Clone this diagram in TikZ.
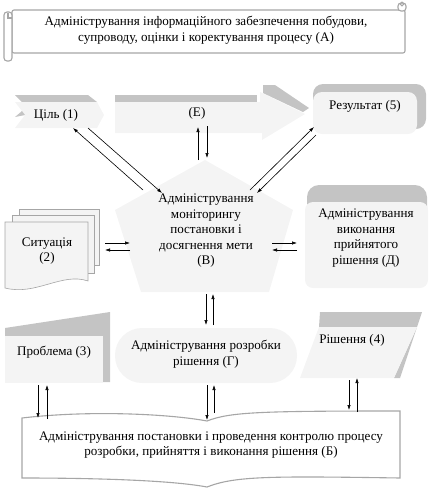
\documentclass[tikz,border=0pt]{standalone}
\usepackage{fontspec}
\setmainfont{Liberation Serif}
\newfontfamily\lbfont{Liberation Serif}
\usetikzlibrary{arrows.meta}
\definecolor{lightfill}{HTML}{F4F4F4}
\definecolor{darkfill}{HTML}{C4C4C4}
\definecolor{edgegray}{HTML}{A6A6A6}
\begin{document}
\begin{tikzpicture}[x=1pt,y=-1pt,
 lbl/.style={font=\lbfont\fontsize{13.1}{15.5}\selectfont, align=center, inner sep=0pt},
 arr/.style={-{Latex[length=5pt,width=3.4pt]}, line width=0.6pt},
 lt/.style={fill=lightfill},
 dk/.style={fill=darkfill},
 outl/.style={draw=edgegray, line width=1.1pt}]
\useasboundingbox (0,0) rectangle (434,491);

% ---------- (A) scroll ----------
\draw[outl, fill=white, rounded corners=2] (12,10) rectangle (405,53);
\draw[outl, fill=white, rounded corners=3] (4,12) rectangle (12,61);
\draw[outl] (8,13) -- (8,18) -- (12,18);
\draw[outl, fill=white, rounded corners=3] (398,3) rectangle (406,11);
\draw[outl] (402,4) circle (1.8);
\node[lbl] (A) at (206,30) {Адміністрування інформаційного забезпечення побудови,\\супроводу, оцінки і коректування процесу (А)};

% ---------- Ціль (1) ----------
\fill[dk] (15,95) -- (88,95) -- (97,102) -- (22,102) -- cycle;
\fill[lt] (22,102) -- (97,102) -- (104,115) -- (97,128) -- (15,128) -- (25,115) -- (15,102) -- cycle;
\fill[dk] (15,117) -- (22,111) -- (25,115) -- cycle;
\node[lbl] (goal) at (56,115) {Ціль (1)};

% ---------- (E) block arrow ----------
\fill[dk] (115,95) -- (257,95) -- (257,102) -- (115,102) -- cycle;
\fill[lt] (115,102) -- (260,102) -- (260,92) -- (305,114) -- (262,140) -- (262,133) -- (115,133) -- cycle;
\fill[dk] (263,85) -- (275,85) -- (309,108) -- (303,112) -- (263,93) -- cycle;
\node[lbl] (E) at (197,113) {(Е)};

% ---------- Результат (5) ----------
\fill[dk, rounded corners=10] (313,84) rectangle (426,129);
\fill[lt, rounded corners=9] (313,92) rectangle (417,134);
\node[lbl] (result) at (365,106) {Результат (5)};

% ---------- pentagon (В) ----------
\fill[lt] (205,160) -- (293,210) -- (269,292) -- (141,292) -- (115,210) -- cycle;
\node[lbl] (mon) at (206,231) {Адміністрування\\моніторингу\\постановки і\\досягнення мети\\(В)};

% ---------- Ситуація (2) ----------
\draw[outl, line width=0.6pt, fill=lightfill] (19,209) rectangle (99,265);
\draw[outl, line width=0.6pt, fill=lightfill] (12,215) rectangle (94,273);
\draw[outl, line width=0.6pt, fill=lightfill] (5,222) -- (88,222) -- (88,281)
   .. controls (62,272) and (36,296) .. (5,288) -- cycle;
\node[lbl] (sit) at (47,251) {Ситуація\\(2)};

% ---------- (Д) ----------
\fill[dk, rounded corners=12] (307,185) rectangle (427,232);
\fill[lt, rounded corners=8] (305,202) rectangle (428,288);
\node[lbl] (exec) at (366,238) {Адміністрування\\виконання\\прийнятого\\рішення (Д)};

% ---------- Проблема (3) ----------
\fill[dk] (5,328) -- (110,312) -- (110,382) -- (103,382) -- (103,336) -- (5,336) -- cycle;
\fill[lt] (5,336) rectangle (103,383);
\node[lbl] (prob) at (54,352) {Проблема (3)};

% ---------- (Г) ----------
\fill[lt, rounded corners=27] (115,328) rectangle (297,383);
\node[lbl] (dev) at (206,354) {Адміністрування розробки\\рішення (Г)};

% ---------- Рішення (4) ----------
\fill[dk] (320,312) -- (422,312) -- (400,378) -- (394,378) -- (417,327) -- (319,327) -- cycle;
\fill[lt] (319,327) -- (417,327) -- (394,378) -- (300,378) -- cycle;
\node[lbl] (sol) at (352,340) {Рішення (4)};

% ---------- (Б) wave banner ----------
\draw[outl, fill=white] (22,418) .. controls (90,410) and (170,414) .. (207,421)
   .. controls (230,412) and (260,411) .. (400,411) -- (400,478)
   .. controls (270,476) and (235,476) .. (207,487)
   .. controls (170,480) and (90,478) .. (22,478) -- cycle;
\node[lbl] (B) at (211,445) {Адміністрування постановки і проведення контролю процесу\\розробки, прийняття і виконання рішення (Б)};

% ---------- connector end points ----------
\coordinate (g1) at (143,190); \coordinate (g1e) at (73,128);
\coordinate (g2) at (88,128);  \coordinate (g2e) at (162,193);
\coordinate (r1) at (250,190); \coordinate (r1e) at (314,127);
\coordinate (r2) at (316,135); \coordinate (r2e) at (257,193);
\coordinate (e1) at (198,160); \coordinate (e1e) at (198,127);
\coordinate (e2) at (207,126); \coordinate (e2e) at (207,158);
\coordinate (s1) at (105,243); \coordinate (s1e) at (130,243);
\coordinate (s2) at (130,250); \coordinate (s2e) at (105,250);
\coordinate (d1) at (272,243); \coordinate (d1e) at (297,243);
\coordinate (d2) at (297,250); \coordinate (d2e) at (272,250);
\coordinate (v1) at (206,294); \coordinate (v1e) at (206,325);
\coordinate (v2) at (213,325); \coordinate (v2e) at (213,294);
\coordinate (p1) at (38,385);  \coordinate (p1e) at (38,418);
\coordinate (p2) at (47,419);  \coordinate (p2e) at (47,385);
\coordinate (c1) at (207,385); \coordinate (c1e) at (207,420);
\coordinate (c2) at (214,413); \coordinate (c2e) at (214,385);
\coordinate (h1) at (349,380); \coordinate (h1e) at (349,410);
\coordinate (h2) at (357,412); \coordinate (h2e) at (357,378);

\draw[arr] (g1) -- (g1e);
\draw[arr] (g2) -- (g2e);
\draw[arr] (r1) -- (r1e);
\draw[arr] (r2) -- (r2e);
\draw[arr] (e1) -- (e1e);
\draw[arr] (e2) -- (e2e);
\draw[arr] (s1) -- (s1e);
\draw[arr] (s2) -- (s2e);
\draw[arr] (d1) -- (d1e);
\draw[arr] (d2) -- (d2e);
\draw[arr] (v1) -- (v1e);
\draw[arr] (v2) -- (v2e);
\draw[arr] (p1) -- (p1e);
\draw[arr] (p2) -- (p2e);
\draw[arr] (c1) -- (c1e);
\draw[arr] (c2) -- (c2e);
\draw[arr] (h1) -- (h1e);
\draw[arr] (h2) -- (h2e);
\end{tikzpicture}
\end{document}
